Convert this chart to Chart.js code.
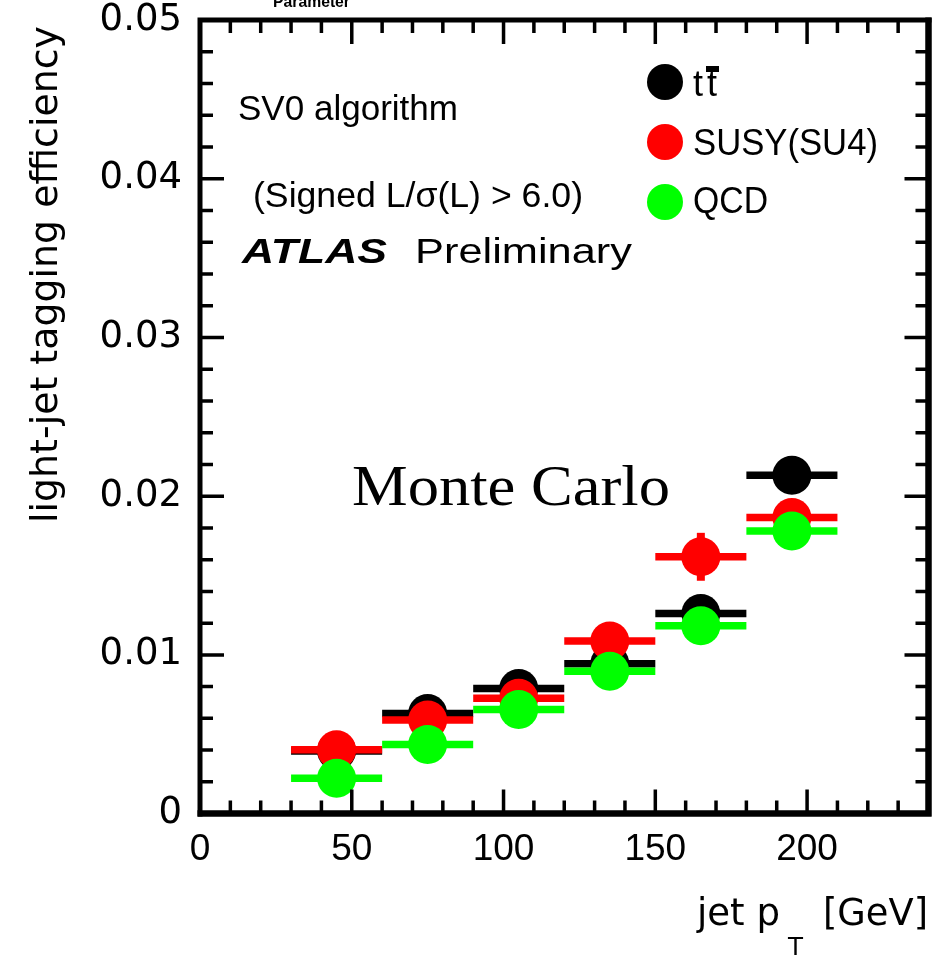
<!DOCTYPE html>
<html>
<head>
<meta charset="utf-8">
<script src="https://cdn.jsdelivr.net/npm/chart.js@4/dist/chart.umd.min.js"></script>
<style>
html,body{margin:0;padding:0;background:#fff;}
#c{display:block;}
</style>
</head>
<body>
<canvas id="c" width="948" height="957"></canvas>
<script>
// ---- data ----
const ptCenter = [45, 75, 105, 135, 165, 195];
const binHalfWidth = [15, 15, 15, 15, 15, 15];
const ttbarEff = [0.00395, 0.00631, 0.00788, 0.00944, 0.0126, 0.02132];
const susyEff  = [0.00402, 0.0059, 0.00727, 0.01087, 0.01618, 0.01865];
const qcdEff   = [0.00223, 0.00436, 0.00656, 0.00897, 0.01184, 0.01781];
const ttbarErr = [0.0003, 0.0003, 0.0003, 0.0004, 0.0005, 0.0007];
const susyErr  = [0.0005, 0.0005, 0.0006, 0.0008, 0.00151, 0.0009];
const qcdErr   = [0.0002, 0.0002, 0.0002, 0.0003, 0.0004, 0.0005];
const seriesLabels = ['t\u0074', 'SUSY(SU4)', 'QCD'];
const xTickValues = [0, 50, 100, 150, 200];
const yTickValues = [0, 0.01, 0.02, 0.03, 0.04, 0.05];

const colors = ['#000000', '#ff0000', '#00ff00'];

function pts(vals, errs) {
  return ptCenter.map((x, i) => ({x: x, y: vals[i], xe: binHalfWidth[i], ye: errs[i]}));
}

function stretchText(ctx, text, x, y, font, width, align) {
  ctx.save();
  ctx.font = font;
  const w = ctx.measureText(text).width;
  const s = width ? width / w : 1;
  let x0 = x;
  if (align === 'right') x0 = x - w * s;
  ctx.translate(x0, y);
  ctx.scale(s, 1);
  ctx.textAlign = 'left';
  ctx.textBaseline = 'alphabetic';
  ctx.fillStyle = '#000';
  ctx.fillText(text, 0, 0);
  ctx.restore();
}

const errorBarPlugin = {
  id: 'errorBars',
  beforeDatasetDraw(chart, args) {
    const ctx = chart.ctx;
    const xs = chart.scales.x, ys = chart.scales.y;
    const ds = chart.data.datasets[args.index];
    ctx.save();
    ctx.strokeStyle = ds.backgroundColor;
    ctx.lineCap = 'butt';
    ds.data.forEach(p => {
      const py = ys.getPixelForValue(p.y);
      ctx.lineWidth = 7.5;
      ctx.beginPath();
      ctx.moveTo(xs.getPixelForValue(p.x - p.xe), py);
      ctx.lineTo(xs.getPixelForValue(p.x + p.xe), py);
      ctx.stroke();
      ctx.lineWidth = 8;
      ctx.beginPath();
      const px = xs.getPixelForValue(p.x);
      ctx.moveTo(px, ys.getPixelForValue(p.y - p.ye));
      ctx.lineTo(px, ys.getPixelForValue(p.y + p.ye));
      ctx.stroke();
    });
    ctx.restore();
  }
};

const framePlugin = {
  id: 'frame',
  afterDatasetsDraw(chart) {
    const ctx = chart.ctx;
    const a = chart.chartArea;
    const xs = chart.scales.x, ys = chart.scales.y;
    ctx.save();
    ctx.strokeStyle = '#000';
    ctx.lineCap = 'butt';
    // ticks
    ctx.lineWidth = 3.5;
    for (let v = 0; v <= 240; v += 10) {
      const px = xs.getPixelForValue(v);
      const major = v % 50 === 0;
      const len = major ? 24 : 13;
      ctx.beginPath();
      ctx.moveTo(px, a.bottom); ctx.lineTo(px, a.bottom - len);
      ctx.moveTo(px, a.top); ctx.lineTo(px, a.top + len);
      ctx.stroke();
    }
    for (let k = 0; k <= 25; k++) {
      const v = k * 0.002;
      const py = ys.getPixelForValue(v);
      const major = k % 5 === 0;
      const len = major ? 24 : 13;
      ctx.beginPath();
      ctx.moveTo(a.left, py); ctx.lineTo(a.left + len, py);
      ctx.moveTo(a.right, py); ctx.lineTo(a.right - len, py);
      ctx.stroke();
    }
    // frame
    ctx.lineWidth = 5;
    ctx.beginPath();
    ctx.moveTo(a.left, a.bottom + 3); ctx.lineTo(a.left, a.top - 2.5);
    ctx.moveTo(a.left - 2.5, a.top); ctx.lineTo(a.right + 3, a.top);
    ctx.stroke();
    ctx.lineWidth = 6.5;
    ctx.beginPath();
    ctx.moveTo(a.left - 2.5, a.bottom); ctx.lineTo(a.right + 3, a.bottom);
    ctx.moveTo(a.right, a.top - 2.5); ctx.lineTo(a.right, a.bottom + 3);
    ctx.stroke();
    ctx.restore();
  },
  afterDraw(chart) {
    const ctx = chart.ctx;
    // axis titles
    ctx.save();
    ctx.translate(57, 26);
    ctx.rotate(-Math.PI / 2);
    stretchText(ctx, 'light-jet tagging efficiency', 0, 0, '38px "DejaVu Sans"', 497, 'right');
    ctx.restore();
    stretchText(ctx, 'jet p', 697, 925, '37px "DejaVu Sans"', 83);
    stretchText(ctx, 'T', 788, 955, '24px "DejaVu Sans"', 15);
    stretchText(ctx, '[GeV]', 928, 925, '37px "DejaVu Sans"', 105, 'right');
    // annotations
    stretchText(ctx, 'Parameter', 273, 7, 'bold 16px "Liberation Sans"', 77);
    stretchText(ctx, 'SV0 algorithm', 238, 120, '35px "Liberation Sans"', 220);
    stretchText(ctx, '(Signed L/\u03c3(L) > 6.0)', 253, 207, '35px "Liberation Sans"', 330);
    stretchText(ctx, 'ATLAS', 242, 263, 'italic bold 35px "Liberation Sans"', 145);
    stretchText(ctx, 'Preliminary', 415, 263, '35px "Liberation Sans"', 217);
    stretchText(ctx, 'Monte Carlo', 352, 505, '56px "Liberation Serif"', 318);
    // legend
    const ds = chart.data.datasets;
    const legendY = [82, 142, 202];
    ds.forEach((d, i) => {
      ctx.save();
      ctx.fillStyle = d.backgroundColor;
      ctx.beginPath();
      ctx.arc(665, legendY[i], 18, 0, Math.PI * 2);
      ctx.fill();
      ctx.restore();
    });
    stretchText(ctx, 't', 693, 96, '37px "Liberation Sans"', 10);
    stretchText(ctx, 't', 707, 96, '37px "Liberation Sans"', 10);
    ctx.save();
    ctx.fillStyle = '#000';
    ctx.fillRect(706, 66, 13, 6);
    ctx.restore();
    stretchText(ctx, 'SUSY(SU4)', 693, 155, '37px "Liberation Sans"', 185);
    stretchText(ctx, 'QCD', 693, 213, '37px "Liberation Sans"', 75);
  }
};

new Chart(document.getElementById('c'), {
  type: 'scatter',
  data: {
    datasets: [
      {label: seriesLabels[0], data: pts(ttbarEff, ttbarErr), backgroundColor: colors[0], borderWidth: 0, pointRadius: 19.5, order: 3},
      {label: seriesLabels[1], data: pts(susyEff, susyErr), backgroundColor: colors[1], borderWidth: 0, pointRadius: 19.5, order: 2},
      {label: seriesLabels[2], data: pts(qcdEff, qcdErr), backgroundColor: colors[2], borderWidth: 0, pointRadius: 19.5, order: 1}
    ]
  },
  options: {
    responsive: false,
    animation: false,
    devicePixelRatio: 1,
    layout: {padding: {top: 20, right: 18, left: 0, bottom: 0}},
    plugins: {legend: {display: false}, tooltip: {enabled: false}},
    scales: {
      x: {
        type: 'linear', min: 0, max: 240,
        grid: {display: false}, border: {display: false},
        afterFit(s) { s.height = 143.4; s.paddingLeft = 0; s.paddingRight = 0; },
        afterBuildTicks(s) { s.ticks = xTickValues.map(v => ({value: v})); },
        ticks: {
          includeBounds: false, maxRotation: 0, autoSkip: false, padding: 6,
          color: '#000', font: {family: '"Liberation Sans"', size: 37},
          callback: v => String(v)
        }
      },
      y: {
        type: 'linear', min: 0, max: 0.05,
        grid: {display: false}, border: {display: false},
        afterFit(s) { s.width = 200; s.paddingTop = 0; s.paddingBottom = 0; },
        afterBuildTicks(s) { s.ticks = yTickValues.map(v => ({value: v})); },
        ticks: {
          includeBounds: false, autoSkip: false, padding: 10,
          color: '#000', font: {family: '"DejaVu Sans"', size: 37},
          callback: v => (v === 0 ? '0' : v.toFixed(2))
        }
      }
    }
  },
  plugins: [errorBarPlugin, framePlugin]
});
</script>
</body>
</html>
